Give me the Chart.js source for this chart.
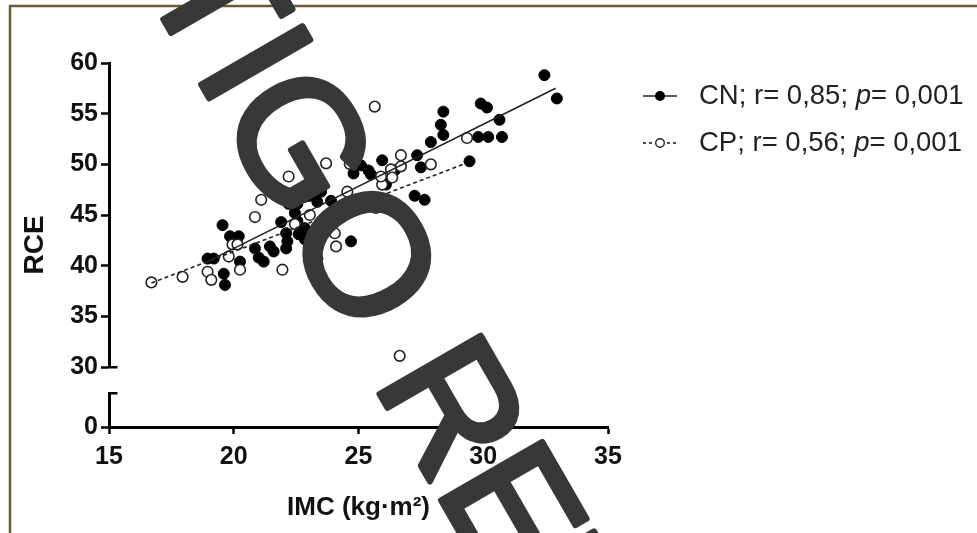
<!DOCTYPE html>
<html>
<head>
<meta charset="utf-8">
<script src="https://cdn.jsdelivr.net/npm/chart.js@4.4.1/dist/chart.umd.min.js"></script>
<style>
  html, body { margin: 0; padding: 0; background: #fff; }
</style>
</head>
<body>
<canvas id="scatter" width="977" height="533"></canvas>
<script>
// CN group (filled dots): IMC vs RCE
var cnIMC = [32.45, 32.95, 29.9, 30.15, 30.65, 28.4, 28.3, 28.4, 27.9, 29.8, 30.2, 30.75,
  27.35, 27.5, 29.45, 25.95, 26.45, 24.9, 25.1, 25.4, 25.5, 24.8, 26.1, 27.25, 27.65, 26.35,
  23.9, 23.25, 23.05, 22.85, 22.55, 23.35, 22.2, 21.9, 22.45, 22.55, 22.85, 22.6, 22.1, 22.15,
  22.1, 21.45, 21.6, 20.85, 21.0, 21.2, 20.2, 19.85, 19.55, 18.95, 19.2, 20.25, 19.6, 19.65,
  24.7, 22.85, 23.5];
var cnRCE = [58.8, 56.5, 56.0, 55.6, 54.4, 55.2, 53.9, 52.9, 52.2, 52.7, 52.7, 52.7,
  50.9, 49.7, 50.3, 50.4, 49.4, 50.1, 49.9, 49.4, 49.0, 49.1, 48.0, 46.9, 46.5, 45.4,
  46.4, 47.2, 46.9, 46.8, 46.1, 46.3, 46.1, 44.3, 45.2, 44.4, 43.7, 43.1, 43.2, 42.4,
  41.7, 41.9, 41.4, 41.7, 40.8, 40.4, 42.9, 42.9, 44.0, 40.7, 40.7, 40.4, 39.2, 38.1,
  42.4, 42.6, 47.3];

// CP group (open circles)
var cpIMC = [16.7, 17.95, 18.95, 19.1, 19.8, 19.95, 20.15, 20.25, 21.95, 20.85, 21.1, 22.2,
  23.7, 24.65, 25.65, 26.7, 27.9, 29.35, 26.3, 26.35, 25.95, 24.55, 25.7, 24.05, 24.1, 23.35,
  26.65, 23.05, 22.45, 26.7, 25.9];
var cpRCE = [38.35, 38.9, 39.4, 38.6, 40.9, 42.1, 42.1, 39.6, 39.6, 44.8, 46.5, 48.8,
  50.1, 50.05, 55.7, 50.9, 50.0, 52.6, 49.5, 48.7, 48.0, 47.3, 45.7, 43.2, 41.9, 40.7,
  31.1, 45.0, 44.1, 49.8, 48.8];

// regression lines (end points)
var cnFitIMC = [18.9, 32.9];
var cnFitRCE = [40.35, 57.5];
var cpFitIMC = [16.7, 29.3];
var cpFitRCE = [38.3, 50.1];

var xTicks = [15, 20, 25, 30, 35];
var yTicks = [30, 35, 40, 45, 50, 55, 60];
var yLowTicks = [0];
var breakTop = 3.4; // top of the short lower segment of the broken axis

var legendText = [
  ["CN; r= 0,85; ", "p", "= 0,001"],
  ["CP; r= 0,56; ", "p", "= 0,001"]
];
var watermark = "ARTIGO RETRATADO";

var FONT = "'Liberation Sans', Arial, sans-serif";

function toPoints(xs, ys) {
  return xs.map(function (x, i) { return { x: x, y: ys[i] }; });
}
function fixedTicks(list) {
  return function (scale) { scale.ticks = list.map(function (v) { return { value: v }; }); };
}
function alignPx(p, w) { return Math.round(p - w / 2) + w / 2; }

// frame, broken axis, legend and stamp
var decor = {
  id: "decor",
  beforeDraw: function (chart) {
    var c = chart.ctx;
    c.save();
    c.fillStyle = "#fff";
    c.fillRect(0, 0, chart.width, chart.height);
    c.strokeStyle = "#6e5a2e";
    c.lineWidth = 2.5;
    c.beginPath();
    c.moveTo(10, chart.height);
    c.lineTo(10, 6);
    c.lineTo(chart.width, 6);
    c.stroke();
    c.restore();
  },
  afterDraw: function (chart) {
    var c = chart.ctx;
    var yUp = chart.scales.y, yLow = chart.scales.y0;
    var ax = alignPx(chart.chartArea.left, 3);

    // axis break
    c.save();
    c.strokeStyle = "#000";
    c.lineWidth = 3;
    var yb0 = yLow.getPixelForValue(0), yb1 = Math.round(yLow.getPixelForValue(breakTop));
    c.beginPath();
    c.moveTo(ax, yb0);
    c.lineTo(ax, yb1);
    c.stroke();
    c.lineWidth = 2.5;
    var y30 = alignPx(yUp.getPixelForValue(30), 2.5);
    c.beginPath();
    c.moveTo(ax - 1.5, y30);
    c.lineTo(ax + 8, y30);
    c.moveTo(ax - 1.5, alignPx(yb1, 2.5));
    c.lineTo(ax + 8, alignPx(yb1, 2.5));
    c.stroke();
    c.restore();

    // legend
    var rows = [
      { fit: chart.data.datasets[0], pts: chart.data.datasets[3], y: 96 },
      { fit: chart.data.datasets[1], pts: chart.data.datasets[2], y: 143 }
    ];
    c.save();
    rows.forEach(function (r, i) {
      c.strokeStyle = r.fit.borderColor;
      c.lineWidth = 1.6;
      c.setLineDash(r.fit.borderDash && r.fit.borderDash.length ? [3, 3] : []);
      c.beginPath();
      c.moveTo(643, r.y);
      c.lineTo(677, r.y);
      c.stroke();
      c.setLineDash([]);
      c.beginPath();
      c.arc(660, r.y, 4.3, 0, Math.PI * 2);
      c.fillStyle = r.pts.backgroundColor;
      c.fill();
      c.lineWidth = 1.4;
      c.strokeStyle = r.pts.borderColor;
      c.stroke();

      var x = 699;
      c.fillStyle = "#222";
      c.textBaseline = "middle";
      legendText[i].forEach(function (part, k) {
        c.font = (k === 1 ? "italic " : "") + "27.5px " + FONT;
        c.fillText(part, x, r.y);
        x += c.measureText(part).width;
      });
    });
    c.restore();

    // diagonal stamp over the figure
    c.save();
    c.translate(349, 341);
    c.rotate(60 * Math.PI / 180);
    c.font = "170px " + FONT;
    c.fillStyle = "#38383a";
    c.strokeStyle = "#38383a";
    c.lineWidth = 6;
    c.lineJoin = "round";
    c.lineCap = "round";
    c.textBaseline = "alphabetic";
    var x0 = -c.measureText("ARTIGO").width;
    c.fillText(watermark, x0, 0);
    c.strokeText(watermark, x0, 0);
    c.restore();
  }
};

var tickGrid = { drawOnChartArea: false, drawTicks: true, tickWidth: 2.5, tickColor: "#000" };
var tickFont = { family: FONT, size: 25, weight: "bold" };

var ctx = document.getElementById("scatter").getContext("2d");
var chart = new Chart(ctx, {
  type: "scatter",
  data: {
    datasets: [
      {
        label: "CN fit",
        data: toPoints(cnFitIMC, cnFitRCE),
        showLine: true,
        borderColor: "#222",
        borderWidth: 1.6,
        pointRadius: 0,
        yAxisID: "y",
      },
      {
        label: "CP fit",
        data: toPoints(cpFitIMC, cpFitRCE),
        showLine: true,
        borderColor: "#222",
        borderWidth: 1.6,
        borderDash: [4, 3],
        pointRadius: 0,
        yAxisID: "y",
      },
      {
        label: "CP",
        data: toPoints(cpIMC, cpRCE),
        backgroundColor: "#fff",
        borderColor: "#222",
        borderWidth: 1.6,
        pointRadius: 5.3,
        yAxisID: "y",
      },
      {
        label: "CN",
        data: toPoints(cnIMC, cnRCE),
        backgroundColor: "#000",
        borderColor: "#000",
        borderWidth: 1,
        pointRadius: 5.5,
        yAxisID: "y",
      },
    ],
  },
  options: {
    responsive: false,
    animation: false,
    layout: { padding: { top: 63, right: 369, bottom: 0, left: 0 } },
    plugins: {
      legend: { display: false },
      tooltip: { enabled: false },
      title: {
        display: true,
        text: "RCE",
        position: "left",
        fullSize: false,
        color: "#111",
        font: { family: FONT, size: 28, weight: "bold" },
        padding: { top: 18, bottom: 10 },
      },
    },
    scales: {
      x: {
        type: "linear",
        position: "bottom",
        min: 15,
        max: 35,
        afterBuildTicks: fixedTicks(xTicks),
        afterFit: function (s) { s.height = 106; },
        grid: Object.assign({ tickLength: 7 }, tickGrid),
        border: { color: "#000", width: 3 },
        ticks: { font: tickFont, color: "#111", padding: 8, maxRotation: 0, autoSkip: false },
        title: {
          display: true,
          text: "IMC (kg·m²)",
          color: "#111",
          font: { family: FONT, size: 26, weight: "bold" },
          padding: { top: 0, bottom: 10 },
        },
      },
      y: {
        type: "linear",
        position: "left",
        min: 30,
        max: 60,
        stack: "rce",
        stackWeight: 304,
        weight: 1,
        afterBuildTicks: fixedTicks(yTicks),
        afterFit: function (s) { s.width = 47.4; },
        grid: Object.assign({ tickLength: 8 }, tickGrid),
        border: { color: "#000", width: 3 },
        ticks: { font: tickFont, color: "#111", padding: 3, autoSkip: false },
      },
      y0: {
        type: "linear",
        position: "left",
        min: 0,
        max: 6,
        stack: "rce",
        stackWeight: 60,
        weight: 0,
        afterBuildTicks: fixedTicks(yLowTicks),
        afterFit: function (s) { s.width = 47.4; },
        grid: Object.assign({ tickLength: 8 }, tickGrid),
        border: { display: false },
        ticks: { font: tickFont, color: "#111", padding: 3, autoSkip: false },
      },
    },
  },
  plugins: [decor],
});
</script>
</body>
</html>
